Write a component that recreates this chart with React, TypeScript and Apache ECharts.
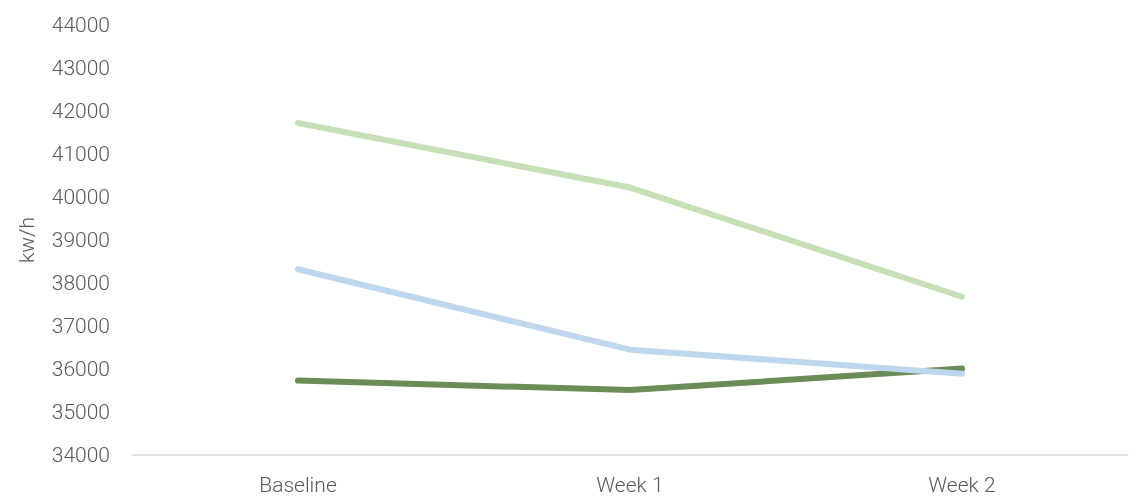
import React, { useEffect, useRef } from "react";
import * as echarts from "echarts";

const categories = ["Baseline", "Week 1", "Week 2"];
const seriesLightGreen = [41720, 40220, 37680];
const seriesLightBlue = [38320, 36450, 35890];
const seriesDarkGreen = [35730, 35510, 36010];
const yMin = 34000;
const yMax = 44000;
const yStep = 1000;

export default function App() {
  const ref = useRef<HTMLDivElement>(null);
  useEffect(() => {
    const chart = echarts.init(ref.current!, null, { renderer: "svg" });
    const textStyle = { color: "#595959", fontFamily: "Roboto", fontWeight: 300 as any, fontSize: 21 };
    const mk = (name: string, data: number[], color: string) => ({
      name,
      type: "line",
      data,
      symbol: "none",
      lineStyle: { color, width: 6, cap: "round", join: "round" },
      itemStyle: { color },
    });
    chart.setOption({
      animation: false,
      grid: { left: 132, right: 6, top: 25, bottom: 46 },
      xAxis: {
        type: "category",
        data: categories,
        boundaryGap: true,
        axisLine: { show: true, lineStyle: { color: "#D9D9D9", width: 1.5 } },
        axisTick: { show: false },
        axisLabel: { ...textStyle, margin: 19 },
      },
      yAxis: {
        type: "value",
        min: yMin,
        max: yMax,
        interval: yStep,
        name: "kw/h",
        nameLocation: "middle",
        nameGap: 95,
        nameTextStyle: { ...textStyle },
        axisLine: { show: false },
        axisTick: { show: false },
        splitLine: { show: false },
        axisLabel: { ...textStyle, margin: 22, formatter: (v: number) => String(v) },
      },
      series: [
        mk("C", seriesDarkGreen, "#6B8B57"),
        mk("A", seriesLightGreen, "#C5E0B4"),
        mk("B", seriesLightBlue, "#BDD7EE"),
      ],
    });
    return () => chart.dispose();
  }, []);
  return <div ref={ref} style={{ position: "fixed", left: 0, top: 0, width: 1134, height: 501 }} />;
}
